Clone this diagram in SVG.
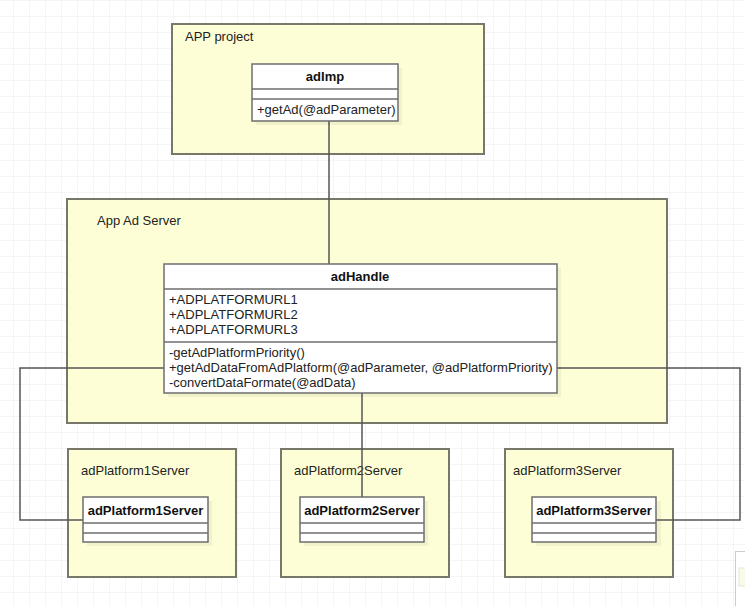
<svg xmlns="http://www.w3.org/2000/svg" width="745" height="606" viewBox="0 0 745 606">
<style>
.pkg{fill:#fefed6;stroke:#77776a;stroke-width:2}
.cls{fill:#ffffff;stroke:#6e6e6e;stroke-width:1.5}
.sep{stroke:#6e6e6e;stroke-width:1.5}
.shadow{fill:#000;opacity:0.05}
.lbl{font-family:"Liberation Sans",Arial,sans-serif;font-size:13px;fill:#222}
.name{font-family:"Liberation Sans",Arial,sans-serif;font-size:13px;font-weight:bold;fill:#111;text-anchor:middle}
.mem{font-family:"Liberation Sans",Arial,sans-serif;font-size:13px;fill:#222}
.conn{fill:none;stroke:#555555;stroke-width:1.5}
</style>
<defs>
<pattern id="grid" x="13" y="0" width="16" height="16" patternUnits="userSpaceOnUse">
<path d="M0 0V16M0 0H16" fill="none" stroke="#ececec" stroke-width="1"/>
</pattern>
</defs>
<rect width="745" height="606" fill="#ffffff"/>
<rect width="745" height="606" fill="url(#grid)"/>

<g id="pkg-app-project">
<rect class="pkg" x="172" y="24" width="312" height="130"/>
<text class="lbl" x="185" y="41">APP project</text>
</g>
<g id="pkg-app-ad-server">
<rect class="pkg" x="67" y="199" width="600" height="224"/>
<text class="lbl" x="97" y="225">App Ad Server</text>
</g>
<g id="pkg-adPlatform1Server">
<rect class="pkg" x="68" y="449" width="168" height="128"/>
<text class="lbl" x="81" y="475">adPlatform1Server</text>
</g>
<g id="pkg-adPlatform2Server">
<rect class="pkg" x="281" y="449" width="168" height="128"/>
<text class="lbl" x="294" y="475">adPlatform2Server</text>
</g>
<g id="pkg-adPlatform3Server">
<rect class="pkg" x="505" y="449" width="168" height="128"/>
<text class="lbl" x="513" y="475">adPlatform3Server</text>
</g>

<g id="connectors">
<path class="conn" d="M329 121V264"/>
<path class="conn" d="M164 368H20V520H83"/>
<path class="conn" d="M557 368H740V520H656"/>
<path class="conn" d="M362 393V497"/>
</g>

<g id="cls-adImp">
<rect class="shadow" x="256" y="68" width="146" height="57"/>
<rect class="cls" x="252" y="64" width="146" height="57"/>
<line class="sep" x1="252" y1="89" x2="398" y2="89"/>
<line class="sep" x1="252" y1="99" x2="398" y2="99"/>
<text class="name" x="325" y="81">adImp</text>
<text class="mem" x="257" y="114">+getAd(@adParameter)</text>
</g>

<g id="cls-adHandle">
<rect class="shadow" x="168" y="268" width="393" height="129"/>
<rect class="cls" x="164" y="264" width="393" height="129"/>
<line class="sep" x1="164" y1="289" x2="557" y2="289"/>
<line class="sep" x1="164" y1="342" x2="557" y2="342"/>
<text class="name" x="360" y="281">adHandle</text>
<text class="mem" x="169" y="304">+ADPLATFORMURL1</text>
<text class="mem" x="169" y="319">+ADPLATFORMURL2</text>
<text class="mem" x="169" y="334">+ADPLATFORMURL3</text>
<text class="mem" x="169" y="357">-getAdPlatformPriority()</text>
<text class="mem" x="169" y="372">+getAdDataFromAdPlatform(@adParameter, @adPlatformPriority)</text>
<text class="mem" x="169" y="387">-convertDataFormate(@adData)</text>
</g>

<g id="cls-adPlatform1Server">
<rect class="shadow" x="87" y="501" width="125" height="45"/>
<rect class="cls" x="83" y="497" width="125" height="45"/>
<line class="sep" x1="83" y1="523" x2="208" y2="523"/>
<line class="sep" x1="83" y1="533" x2="208" y2="533"/>
<text class="name" x="145.5" y="515">adPlatform1Server</text>
</g>
<g id="cls-adPlatform2Server">
<rect class="shadow" x="304" y="501" width="124" height="45"/>
<rect class="cls" x="300" y="497" width="124" height="45"/>
<line class="sep" x1="300" y1="523" x2="424" y2="523"/>
<line class="sep" x1="300" y1="533" x2="424" y2="533"/>
<text class="name" x="362" y="515">adPlatform2Server</text>
</g>
<g id="cls-adPlatform3Server">
<rect class="shadow" x="536" y="501" width="125" height="45"/>
<rect class="cls" x="532" y="497" width="124" height="45"/>
<line class="sep" x1="532" y1="523" x2="656" y2="523"/>
<line class="sep" x1="532" y1="533" x2="656" y2="533"/>
<text class="name" x="594" y="515">adPlatform3Server</text>
</g>

<rect x="735.5" y="551.5" width="12" height="60" fill="#ffffff" stroke="#cccccc" stroke-width="1"/>
<rect x="739" y="568" width="8" height="18" fill="#fafae8" stroke="#dddddd" stroke-width="0.8"/>
</svg>
